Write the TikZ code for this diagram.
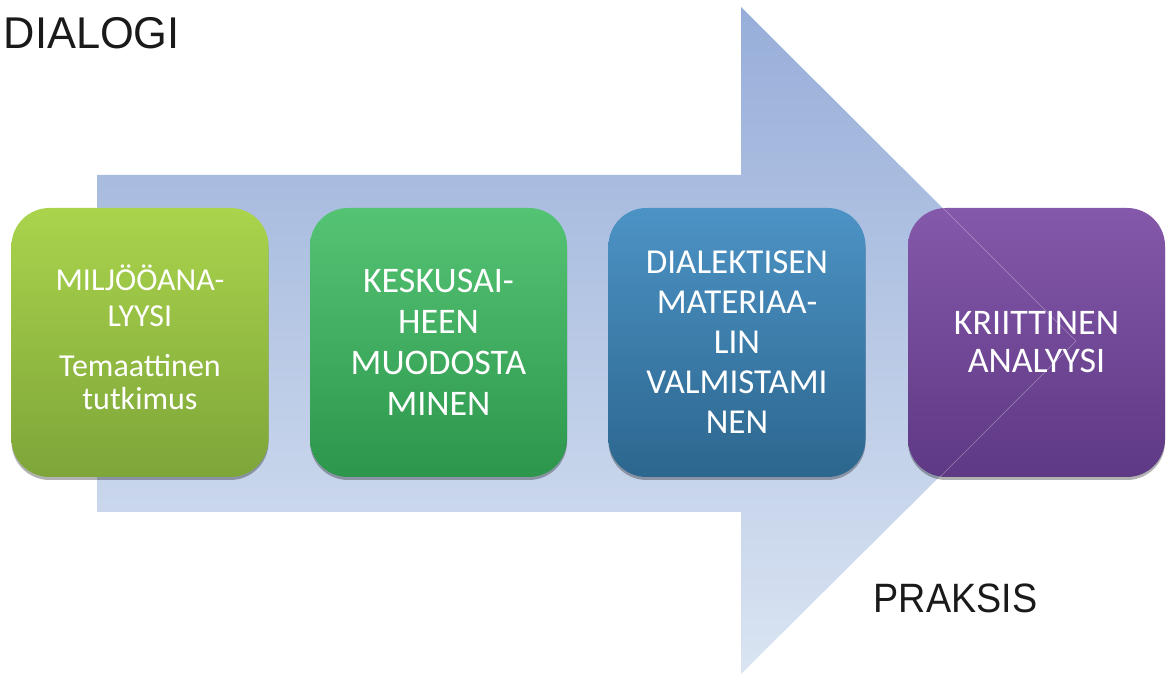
\documentclass[tikz,border=0pt]{standalone}
\usepackage{fontspec}
\setmainfont{Carlito}
\newfontfamily\arialf{Liberation Sans}
\usetikzlibrary{shadows}
\definecolor{arrowtop}{HTML}{97AED9}
\definecolor{arrowbot}{HTML}{DAE4F2}
\definecolor{g1t}{HTML}{AAD44C}
\definecolor{g1b}{HTML}{7DA539}
\definecolor{g2t}{HTML}{55C374}
\definecolor{g2b}{HTML}{2C974C}
\definecolor{b3t}{HTML}{4C93C5}
\definecolor{b3b}{HTML}{2C668E}
\definecolor{p4t}{HTML}{8458AA}
\definecolor{p4b}{HTML}{5E3984}
\definecolor{lbl}{HTML}{1A1A1A}
\tikzset{
  stepbox/.style={rounded corners=38pt, minimum width=257pt, minimum height=269pt,
    inner sep=0pt, text=white, align=center,
    drop shadow={opacity=0.3, shadow xshift=0pt, shadow yshift=-3pt, fill=black}},
  boxtext/.style={inner sep=0pt, text=white, align=center},
  biglabel/.style={anchor=base west, inner sep=0pt, text=lbl}
}
\begin{document}
\begin{tikzpicture}[x=1pt,y=1pt]
\useasboundingbox (0,0) rectangle (1167,674);
% big arrow
\path[top color=arrowtop, bottom color=arrowbot]
  (97,499) -- (741,499) -- (741,667) -- (1076,333) -- (741,0) -- (741,162) -- (97,162) -- cycle;
% boxes
\node[stepbox, top color=g1t, bottom color=g1b] (b1) at (140,331.5) {};
\node[boxtext, font=\fontsize{32}{36}\selectfont] (t1) at ([yshift=5pt]b1.center)
  {MILJÖÖANA-\\LYYSI\\[14pt]Temaattinen\\[-3pt]tutkimus};
\node[stepbox, top color=g2t, bottom color=g2b, font=\fontsize{36}{41}\selectfont] (b2) at (438.5,331.5)
  {KESKUSAI-\\HEEN\\MUODOSTA\\MINEN};
\node[stepbox, top color=b3t, bottom color=b3b, font=\fontsize{35}{40}\selectfont] (b3) at (737,331.5)
  {DIALEKTISEN\\MATERIAA-\\LIN\\VALMISTAMI\\NEN};
\node[stepbox, top color=p4t, bottom color=p4b, font=\fontsize{36}{38}\selectfont] (b4) at (1036.5,331.5)
  {KRIITTINEN\\ANALYYSI};
% faint arrow edge seen through the last box
\begin{scope}
  \clip[rounded corners=38pt] (b4.south west) rectangle (b4.north east);
  \draw[white, opacity=0.35, line width=0.6pt] (933,476) -- (1076,333) -- (933,190);
\end{scope}
% labels
\node[biglabel, font=\arialf\fontsize{44.5}{50}\selectfont] (dialogi) at (3.5,625.5) {\scalebox{0.975}[1]{DIALOGI}};
\node[biglabel, font=\arialf\fontsize{41}{48}\selectfont] (praksis) at (873.5,61) {\scalebox{0.92}[1]{PRAKSIS}};
\end{tikzpicture}
\end{document}
